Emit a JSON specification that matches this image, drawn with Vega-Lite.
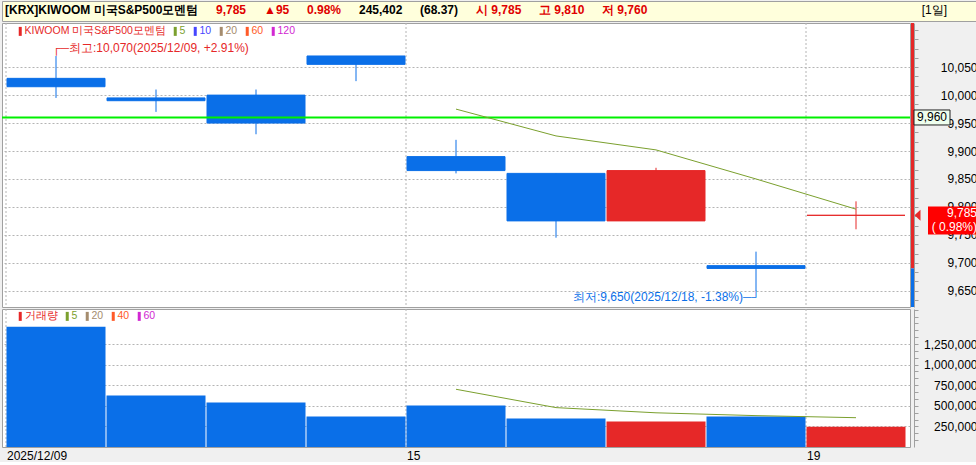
{
  "$schema": "https://vega.github.io/schema/vega-lite/v6.json",
  "background": "#F0F0F0",
  "padding": 0,
  "spacing": 2,
  "bounds": "flush",
  "config": {
    "font": "Liberation Sans",
    "view": {"fill": "#FFFFFF", "stroke": "#A0A0A0"},
    "axis": {"labelFont": "Liberation Sans", "labelFontSize": 12, "labelColor": "#000000", "labelOverlap": false},
    "legend": {"labelFont": "Liberation Sans", "labelFontSize": 12},
    "text": {"font": "Liberation Sans"},
    "title": {"font": "Liberation Sans"}
  },
  "datasets": {
    "daily": [
      {"date": "2025/12/09", "open": 10030, "high": 10070, "low": 9995, "close": 10015, "volume": 1460000, "ma5": null, "vma5": null},
      {"date": "2025/12/10", "open": 9995, "high": 10010, "low": 9970, "close": 9990, "volume": 626000, "ma5": null, "vma5": null},
      {"date": "2025/12/11", "open": 10000, "high": 10010, "low": 9930, "close": 9950, "volume": 541000, "ma5": null, "vma5": null},
      {"date": "2025/12/12", "open": 10070, "high": 10070, "low": 10025, "close": 10055, "volume": 371000, "ma5": null, "vma5": null},
      {"date": "2025/12/15", "open": 9890, "high": 9920, "low": 9860, "close": 9865, "volume": 505000, "ma5": 9975, "vma5": 700600},
      {"date": "2025/12/16", "open": 9860, "high": 9860, "low": 9745, "close": 9775, "volume": 347000, "ma5": 9927, "vma5": 478000},
      {"date": "2025/12/17", "open": 9775, "high": 9870, "low": 9775, "close": 9865, "volume": 311000, "ma5": 9902, "vma5": 415000},
      {"date": "2025/12/18", "open": 9695, "high": 9720, "low": 9650, "close": 9690, "volume": 370000, "ma5": 9850, "vma5": 380800},
      {"date": "2025/12/19", "open": 9785, "high": 9810, "low": 9760, "close": 9785, "volume": 245402, "ma5": 9796, "vma5": 355600}
    ],
    "header": [
      {"part": "[KRX]KIWOOM 미국S&P500모멘텀"},
      {"part": "9,785"},
      {"part": "▲95"},
      {"part": "0.98%"},
      {"part": "245,402"},
      {"part": "(68.37)"},
      {"part": "시 9,785"},
      {"part": "고 9,810"},
      {"part": "저 9,760"}
    ]
  },
  "resolve": {"scale": {"color": "independent", "x": "independent"}, "legend": {"color": "independent"}},
  "vconcat": [
    {
      "width": 976,
      "height": 20,
      "view": {"fill": "#FFFFDC", "stroke": "#A0A0A0"},
      "title": {"text": "[1일]", "orient": "top", "anchor": "end", "frame": "group", "offset": -16, "dx": -31, "fontSize": 12, "fontWeight": "normal", "color": "#000000"},
      "data": {"name": "header"},
      "mark": {"type": "text", "text": "", "opacity": 0},
      "encoding": {
        "color": {
          "field": "part", "type": "nominal",
          "scale": {"domain": ["[KRX]KIWOOM 미국S&P500모멘텀", "9,785", "▲95", "0.98%", "245,402", "(68.37)", "시 9,785", "고 9,810", "저 9,760"],
                    "range": ["#000000", "#E00000", "#E00000", "#E00000", "#000000", "#000000", "#E00000", "#E00000", "#E00000"]},
          "legend": {
            "orient": "none", "legendX": 4, "legendY": 3, "direction": "horizontal", "title": null,
            "symbolSize": 1, "symbolOpacity": 0, "symbolStrokeWidth": 0, "labelOffset": -13, "columnPadding": 17,
            "padding": 0, "labelFontSize": 12, "labelFontWeight": "bold", "labelLimit": 400,
            "encode": {"labels": {"update": {"fill": {"signal": "indexof(['[KRX]KIWOOM 미국S&P500모멘텀','245,402','(68.37)'], datum.value) >= 0 ? '#000000' : '#E00000'"}}}}
          }
        }
      }
    },
    {
      "width": 908,
      "height": 284,
      "data": {"name": "daily"},
      "layer": [
        {
          "transform": [{"filter": "datum.date === '2025/12/09' || datum.date === '2025/12/15' || datum.date === '2025/12/19'"}],
          "mark": {"type": "rule", "strokeWidth": 1, "strokeDash": [2, 2], "color": "#B4B4B4"},
          "encoding": {
            "x": {"field": "date", "type": "ordinal", "bandPosition": 0,
                  "scale": {"type": "band", "paddingInner": 0, "paddingOuter": 0.04, "align": 0.5},
                  "axis": {"title": null, "labels": false, "ticks": false, "domain": false, "grid": false}}
          }
        },
        {
          "mark": {"type": "rule", "strokeWidth": 1},
          "encoding": {
            "x": {"field": "date", "type": "ordinal"},
            "y": {"field": "low", "type": "quantitative",
                  "scale": {"domain": [9621, 10129], "nice": false, "zero": false},
                  "axis": {
                    "orient": "right", "title": null, "offset": 4,
                    "values": [9633.333, 9650, 9666.667, 9683.333, 9700, 9716.667, 9733.333, 9750, 9766.667, 9783.333, 9800, 9816.667, 9833.333, 9850, 9866.667, 9883.333, 9900, 9916.667, 9933.333, 9950, 9966.667, 9983.333, 10000, 10016.667, 10033.333, 10050, 10066.667, 10083.333, 10100, 10116.667],
                    "tickCount": 100,
                    "labelExpr": "(abs(datum.value - round(datum.value / 50) * 50) < 0.1 && datum.value >= 9650 && datum.value <= 10050) ? format(datum.value, ',') : ''",
                    "labelAlign": "right", "labelPadding": 59, "labelOverlap": false,
                    "tickSize": 4, "tickColor": "#A0A0A0", "domainColor": "#A0A0A0",
                    "grid": true, "gridDash": [2, 2], "gridColor": "#B4B4B4",
                    "gridOpacity": {"condition": {"test": "abs(datum.value - round(datum.value / 50) * 50) < 0.1 && datum.value >= 9650 && datum.value <= 10050", "value": 1}, "value": 0}
                  }},
            "y2": {"field": "high"},
            "color": {"condition": {"test": "datum.close >= datum.open", "value": "#E62828"}, "value": "#0A6FE8"}
          }
        },
        {
          "mark": {"type": "bar", "strokeWidth": 1, "width": {"band": 0.98}},
          "encoding": {
            "x": {"field": "date", "type": "ordinal"},
            "y": {"field": "open", "type": "quantitative"},
            "y2": {"field": "close"},
            "color": {"condition": {"test": "datum.close >= datum.open", "value": "#E62828"}, "value": "#0A6FE8"},
            "stroke": {"condition": {"test": "datum.close >= datum.open", "value": "#E62828"}, "value": "#0A6FE8"}
          }
        },
        {
          "data": {"values": [{"level": "line"}]},
          "mark": {"type": "rule", "strokeWidth": 2, "color": "#00F000"},
          "encoding": {"y": {"datum": 9960, "type": "quantitative"}}
        },
        {
          "mark": {"type": "line", "strokeWidth": 1},
          "encoding": {
            "x": {"field": "date", "type": "ordinal"},
            "y": {"field": "ma5", "type": "quantitative"},
            "color": {
              "datum": "5", "type": "nominal",
              "scale": {"domain": ["KIWOOM 미국S&P500모멘텀", "5", "10", "20", "60", "120"],
                        "range": ["#E62828", "#7BA02E", "#4646FF", "#A58C6E", "#FF5A28", "#D228D2"]},
              "legend": {
                "orient": "none", "legendX": 10, "legendY": 3, "direction": "horizontal", "title": null,
                "symbolType": "M0.33,-1L1,-1L1,1L0.33,1Z", "symbolSize": 81, "symbolStrokeWidth": 0,
                "labelOffset": 2, "columnPadding": 1, "padding": 0, "labelLimit": 400, "labelFontSize": 10.5,
                "encode": {
                  "symbols": {"update": {
                    "fill": {"signal": "datum.value === '5' ? '#7BA02E' : datum.value === '10' ? '#4646FF' : datum.value === '20' ? '#A58C6E' : datum.value === '60' ? '#FF5A28' : datum.value === '120' ? '#D228D2' : '#E62828'"},
                    "stroke": {"value": "transparent"},
                    "opacity": {"value": 1}
                  }},
                  "labels": {"update": {
                    "fill": {"signal": "datum.value === '5' ? '#7BA02E' : datum.value === '10' ? '#4646FF' : datum.value === '20' ? '#A58C6E' : datum.value === '60' ? '#FF5A28' : datum.value === '120' ? '#D228D2' : '#E62828'"}
                  }}
                }
              }
            }
          }
        },
        {
          "transform": [{"filter": "datum.date === '2025/12/09'"}],
          "mark": {"type": "text", "align": "left", "baseline": "middle", "dx": -4, "dy": -8, "fontSize": 12, "color": "#E62828"},
          "encoding": {
            "x": {"field": "date", "type": "ordinal"},
            "y": {"field": "high", "type": "quantitative"},
            "text": {"value": "┌─최고:10,070(2025/12/09, +2.91%)"}
          }
        },
        {
          "transform": [{"filter": "datum.date === '2025/12/18'"}],
          "mark": {"type": "text", "align": "right", "baseline": "middle", "dx": 4, "dy": 6, "fontSize": 12, "color": "#0A6FE8"},
          "encoding": {
            "x": {"field": "date", "type": "ordinal"},
            "y": {"field": "low", "type": "quantitative"},
            "text": {"value": "최저:9,650(2025/12/18, -1.38%)─┘"}
          }
        },
        {
          "data": {"values": [{"side": "up"}]},
          "mark": {"type": "rule", "strokeWidth": 3, "xOffset": 2.5, "color": "#E62828"},
          "encoding": {"x": {"value": "width"}, "y": {"datum": 10129, "type": "quantitative"}, "y2": {"datum": 9690}}
        },
        {
          "data": {"values": [{"side": "down"}]},
          "mark": {"type": "rule", "strokeWidth": 3, "xOffset": 2.5, "color": "#0A6FE8"},
          "encoding": {"x": {"value": "width"}, "y": {"datum": 9690, "type": "quantitative"}, "y2": {"datum": 9621}}
        },
        {
          "data": {"values": [{"tag": "level"}]},
          "mark": {"type": "point", "shape": "M0.4,-0.75L4,-0.75L4,0.75L0.4,0.75Z", "size": 400, "filled": true, "fill": "#EEFFEE", "stroke": "#202020", "strokeWidth": 1, "opacity": 1},
          "encoding": {"x": {"value": "width"}, "y": {"datum": 9960, "type": "quantitative"}}
        },
        {
          "data": {"values": [{"tag": "level"}]},
          "mark": {"type": "text", "align": "center", "baseline": "middle", "dx": 22, "fontSize": 12, "color": "#000000"},
          "encoding": {"x": {"value": "width"}, "y": {"datum": 9960, "type": "quantitative"}, "text": {"value": "9,960"}}
        },
        {
          "data": {"values": [{"tag": "price"}]},
          "mark": {"type": "point", "shape": "M1.8,-0.87L6.8,-0.87L6.8,1.93L1.8,1.93Z", "size": 400, "filled": true, "fill": "#FF0000", "strokeWidth": 0, "opacity": 1},
          "encoding": {"x": {"value": "width"}, "y": {"datum": 9785, "type": "quantitative"}}
        },
        {
          "data": {"values": [{"tag": "price"}]},
          "mark": {"type": "point", "shape": "M0.45,0L1.05,-0.55L1.05,0.55Z", "size": 400, "filled": true, "fill": "#E62828", "strokeWidth": 0, "opacity": 1},
          "encoding": {"x": {"value": "width"}, "y": {"datum": 9785, "type": "quantitative"}}
        },
        {
          "data": {"values": [{"tag": "price"}]},
          "mark": {"type": "text", "align": "right", "baseline": "middle", "dx": 67, "dy": -2, "fontSize": 12, "color": "#FFFFFF"},
          "encoding": {"x": {"value": "width"}, "y": {"datum": 9785, "type": "quantitative"}, "text": {"value": "9,785"}}
        },
        {
          "data": {"values": [{"tag": "price"}]},
          "mark": {"type": "text", "align": "right", "baseline": "middle", "dx": 67, "dy": 12, "fontSize": 12, "color": "#FFFFFF"},
          "encoding": {"x": {"value": "width"}, "y": {"datum": 9785, "type": "quantitative"}, "text": {"value": "( 0.98%)"}}
        }
      ]
    },
    {
      "width": 908,
      "height": 138,
      "data": {"name": "daily"},
      "layer": [
        {
          "transform": [{"filter": "datum.date === '2025/12/09' || datum.date === '2025/12/15' || datum.date === '2025/12/19'"}],
          "mark": {"type": "rule", "strokeWidth": 1, "strokeDash": [2, 2], "color": "#B4B4B4"},
          "encoding": {
            "x": {"field": "date", "type": "ordinal", "bandPosition": 0,
                  "scale": {"type": "band", "paddingInner": 0, "paddingOuter": 0.04, "align": 0.5},
                  "axis": {"title": null, "values": ["2025/12/09", "2025/12/15", "2025/12/19"],
                           "labelExpr": "datum.value === '2025/12/09' ? datum.value : substring(datum.value, 8)",
                           "labelAlign": "left", "labelAngle": 0, "labelOffset": -49, "labelPadding": 3, "labelOverlap": false,
                           "ticks": false, "domain": false, "grid": false}}
          }
        },
        {
          "mark": {"type": "bar", "width": {"band": 0.99}},
          "encoding": {
            "x": {"field": "date", "type": "ordinal"},
            "y": {"field": "volume", "type": "quantitative",
                  "scale": {"domain": [0, 1675000], "nice": false, "zero": true},
                  "axis": {
                    "orient": "right", "title": null, "offset": 4,
                    "values": [83333.33, 166666.67, 250000, 333333.33, 416666.67, 500000, 583333.33, 666666.67, 750000, 833333.33, 916666.67, 1000000, 1083333.33, 1166666.67, 1250000, 1333333.33, 1416666.67, 1500000, 1583333.33, 1666666.67],
                    "tickCount": 100,
                    "labelExpr": "(abs(datum.value - round(datum.value / 250000) * 250000) < 1 && datum.value <= 1250000) ? format(datum.value, ',') : ''",
                    "labelAlign": "right", "labelPadding": 59, "labelOverlap": false,
                    "tickSize": 4, "tickColor": "#A0A0A0", "domainColor": "#A0A0A0",
                    "grid": true, "gridDash": [2, 2], "gridColor": "#B4B4B4",
                    "gridOpacity": {"condition": {"test": "abs(datum.value - round(datum.value / 250000) * 250000) < 1 && datum.value <= 1250000", "value": 1}, "value": 0}
                  }},
            "color": {"condition": {"test": "datum.close >= datum.open", "value": "#E62828"}, "value": "#0A6FE8"}
          }
        },
        {
          "mark": {"type": "line", "strokeWidth": 1},
          "encoding": {
            "x": {"field": "date", "type": "ordinal"},
            "y": {"field": "vma5", "type": "quantitative"},
            "color": {
              "datum": "5", "type": "nominal",
              "scale": {"domain": ["거래량", "5", "20", "40", "60"],
                        "range": ["#E62828", "#7BA02E", "#A58C6E", "#FF5A28", "#D228D2"]},
              "legend": {
                "orient": "none", "legendX": 10, "legendY": 2, "direction": "horizontal", "title": null,
                "symbolType": "M0.33,-1L1,-1L1,1L0.33,1Z", "symbolSize": 81, "symbolStrokeWidth": 0,
                "labelOffset": 2, "columnPadding": 1, "padding": 0, "labelLimit": 400, "labelFontSize": 10.5,
                "encode": {
                  "symbols": {"update": {
                    "fill": {"signal": "datum.value === '5' ? '#7BA02E' : datum.value === '20' ? '#A58C6E' : datum.value === '40' ? '#FF5A28' : datum.value === '60' ? '#D228D2' : '#E62828'"},
                    "stroke": {"value": "transparent"},
                    "opacity": {"value": 1}
                  }},
                  "labels": {"update": {
                    "fill": {"signal": "datum.value === '5' ? '#7BA02E' : datum.value === '20' ? '#A58C6E' : datum.value === '40' ? '#FF5A28' : datum.value === '60' ? '#D228D2' : '#E62828'"}
                  }}
                }
              }
            }
          }
        }
      ]
    }
  ]
}
